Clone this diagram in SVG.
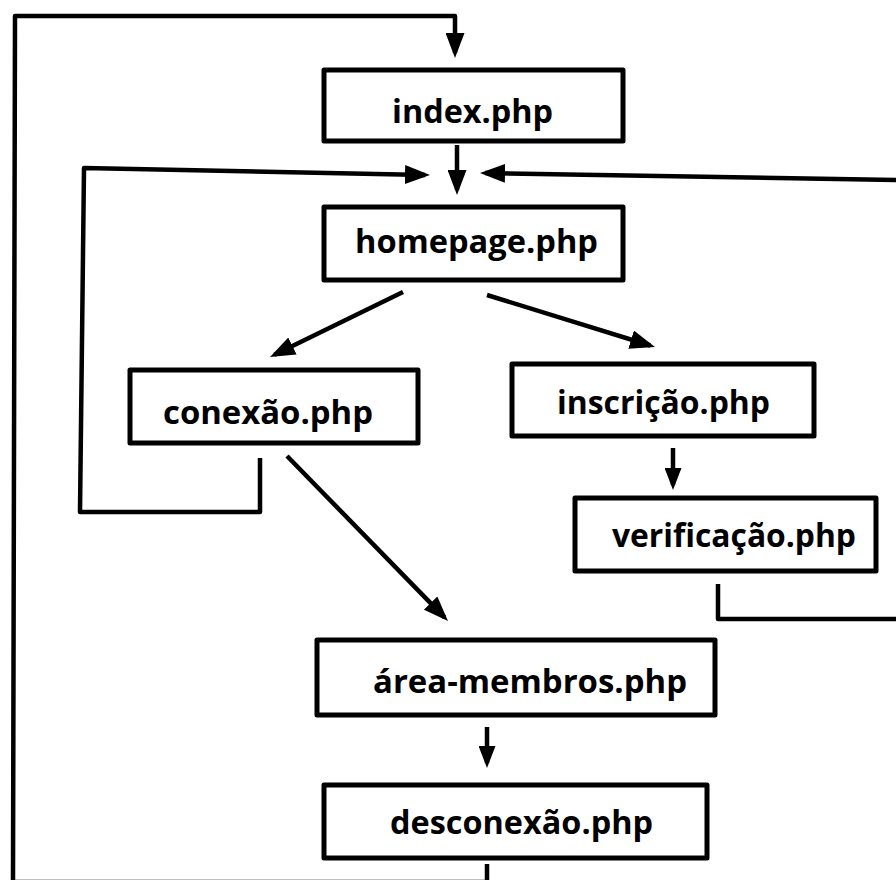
<svg xmlns="http://www.w3.org/2000/svg" width="896" height="880" viewBox="0 0 896 880">
<style>
.box{fill:#fff;stroke:#000;stroke-width:5;stroke-linejoin:round}
.lbl{font-family:"Open Sans","Noto Sans","DejaVu Sans",sans-serif;font-weight:bold;font-size:33px;fill:#000}
.con{fill:none;stroke:#000;stroke-width:4.5;stroke-linejoin:round}
.arr{marker-end:url(#ah)}
.arrs{marker-end:url(#ahs)}
</style>
<defs>
<marker id="ah" markerUnits="userSpaceOnUse" markerWidth="25" markerHeight="19" viewBox="0 0 25 19" refX="20" refY="9.5" orient="auto">
<path d="M0,0 L25,9.5 L0,19 z" fill="#000"/>
</marker>
<marker id="ahs" markerUnits="userSpaceOnUse" markerWidth="22" markerHeight="17" viewBox="0 0 22 17" refX="17" refY="8.5" orient="auto">
<path d="M0,0 L22,8.5 L0,17 z" fill="#000"/>
</marker>
</defs>
<rect width="896" height="880" fill="#fff"/>
<g id="connectors">
<path class="con arr" d="M487,864 L487,882 L13,882 L15,16 L455,16 L455,53"/>
<path class="con arr" d="M457,145 L457,190"/>
<path class="con arr" d="M260,458 L260,512 L80,512 L84,168 L425,175"/>
<path class="con arr" d="M718,584 L718,619 L902,619 L902,180 L485,173"/>
<path class="con arr" d="M403,292 L274.5,354.8"/>
<path class="con arr" d="M487,295 L650.2,345.5"/>
<path class="con arrs" d="M673,448 L673,485"/>
<path class="con arr" d="M287,456 L444.5,617.4"/>
<path class="con arrs" d="M487,727 L487,763"/>
</g>
<g id="index">
<rect class="box" x="324" y="70" width="299" height="71"/>
<text class="lbl" x="392" y="123" textLength="161" lengthAdjust="spacingAndGlyphs">index.php</text>
</g>
<g id="homepage">
<rect class="box" x="324" y="207" width="299" height="73"/>
<text class="lbl" x="355" y="253" textLength="243" lengthAdjust="spacingAndGlyphs">homepage.php</text>
</g>
<g id="conexao">
<rect class="box" x="130" y="370" width="288" height="73"/>
<text class="lbl" x="163" y="424" textLength="210" lengthAdjust="spacingAndGlyphs">conexão.php</text>
</g>
<g id="inscricao">
<rect class="box" x="512" y="364" width="302" height="72"/>
<text class="lbl" x="557" y="414" textLength="213" lengthAdjust="spacingAndGlyphs">inscrição.php</text>
</g>
<g id="verificacao">
<rect class="box" x="575" y="498" width="301" height="73"/>
<text class="lbl" x="612" y="547" textLength="244" lengthAdjust="spacingAndGlyphs">verificação.php</text>
</g>
<g id="area-membros">
<rect class="box" x="317" y="640" width="398" height="75"/>
<text class="lbl" x="373" y="693" textLength="314" lengthAdjust="spacingAndGlyphs">área-membros.php</text>
</g>
<g id="desconexao">
<rect class="box" x="324" y="785" width="383" height="73"/>
<text class="lbl" x="390" y="834" textLength="263" lengthAdjust="spacingAndGlyphs">desconexão.php</text>
</g>
</svg>
